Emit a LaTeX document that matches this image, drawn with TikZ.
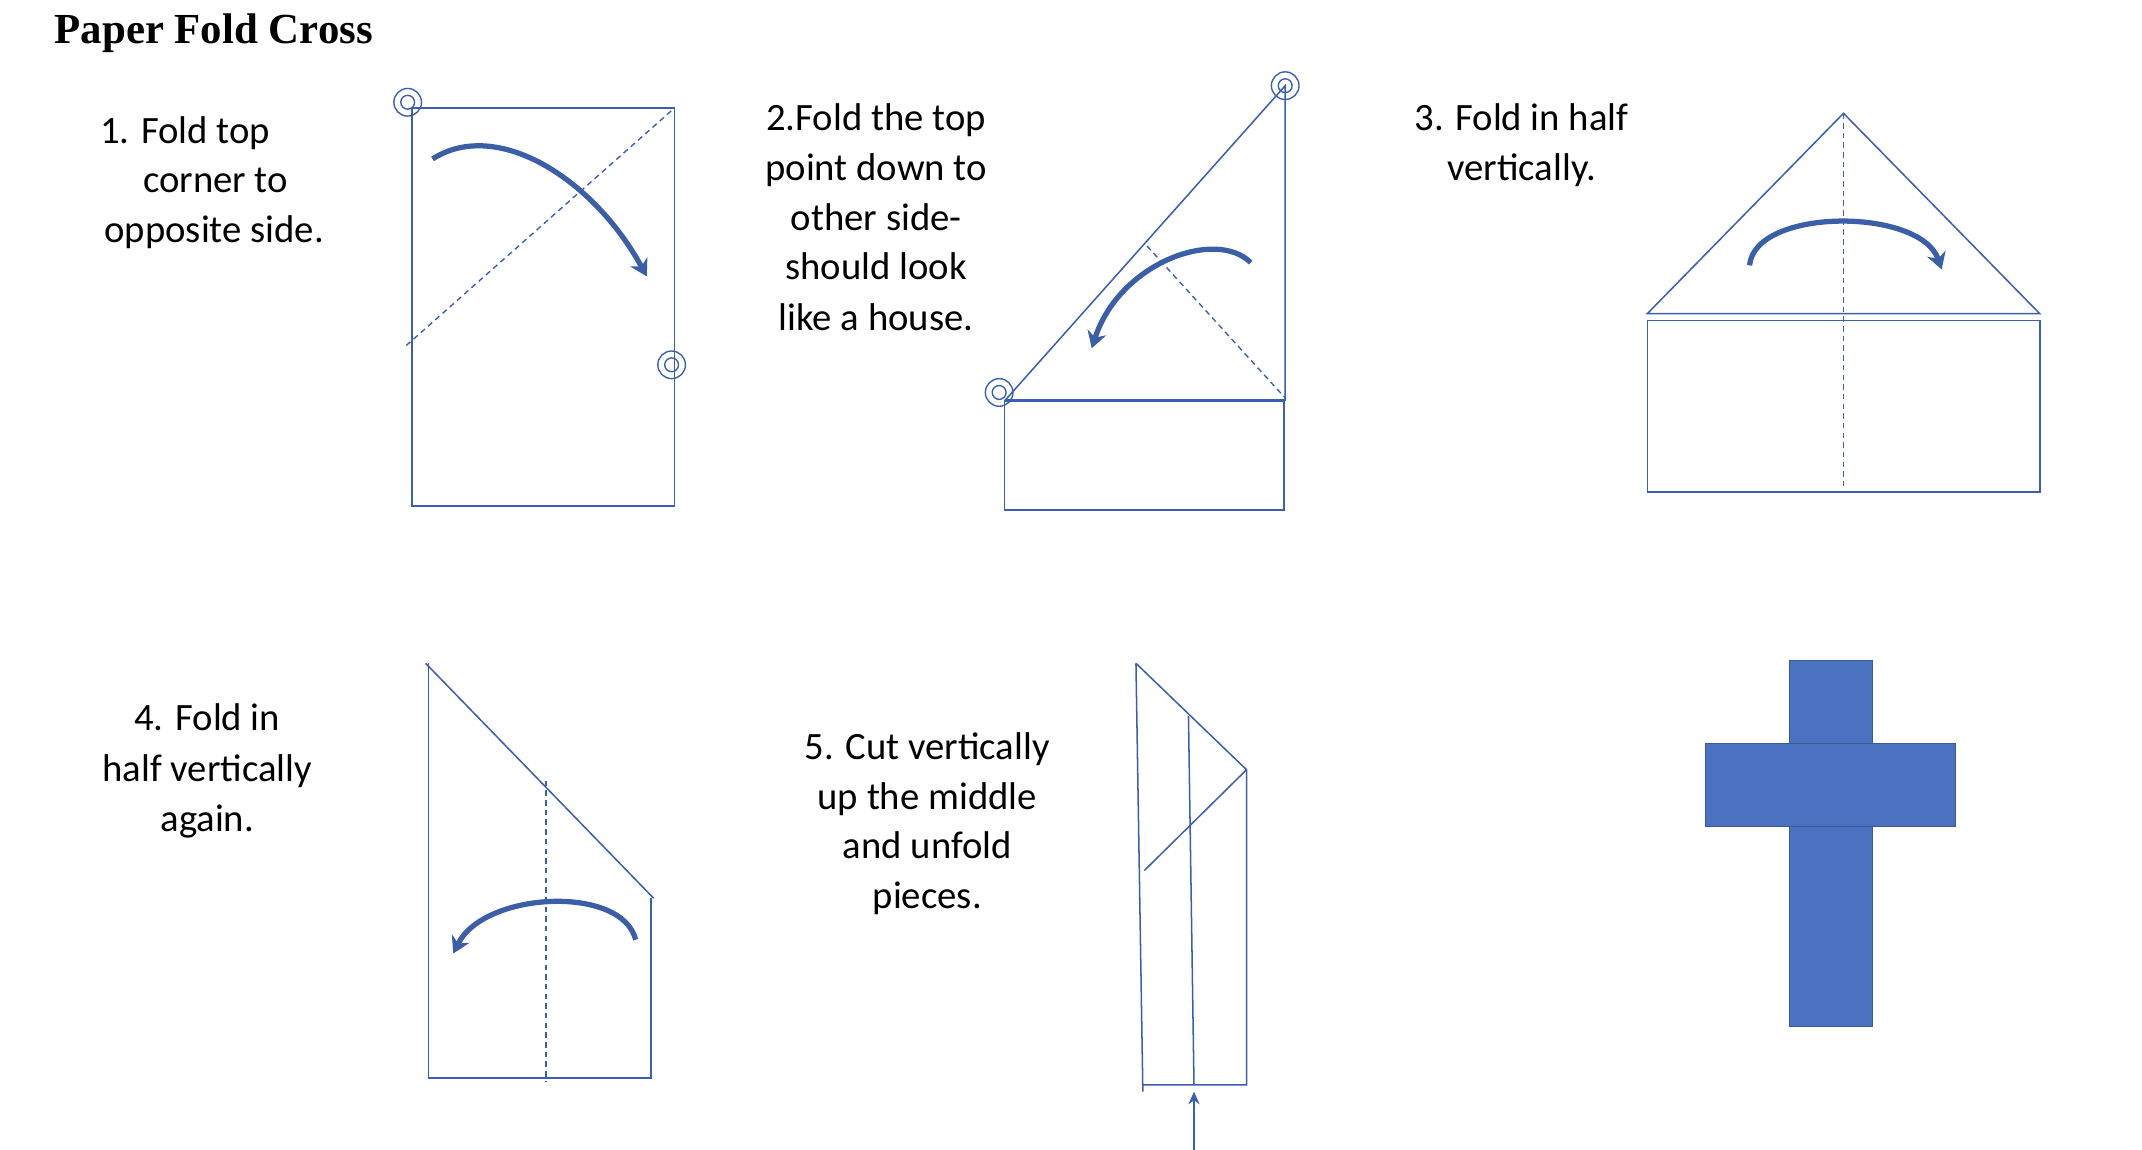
\documentclass[tikz,border=0pt]{standalone}
\usepackage{fontspec}
\setmainfont{Carlito}
\newfontfamily\titlefont{Liberation Serif}
\usetikzlibrary{arrows.meta}
\definecolor{ln}{HTML}{3A5FB0}
\definecolor{arr}{HTML}{3B5EA8}
\definecolor{crs}{HTML}{4A72C0}
\definecolor{crsb}{HTML}{3A5A9A}
\begin{document}
\begin{tikzpicture}[x=1pt,y=-1pt,
  paper/.style={draw=ln,line width=1.1pt},
  fold/.style={draw=ln,line width=1pt,dash pattern=on 4pt off 3pt},
  curlarrow/.style={draw=arr,line width=3.8pt,-{Stealth[length=12pt,width=14pt]}},
  lbl/.style={font=\fontsize{28}{32}\selectfont,anchor=center,text height=19pt,text depth=6pt,inner sep=0pt},
  pin/.style={draw=ln,line width=1pt}]
\useasboundingbox (0,0) rectangle (1550,832);
\node[anchor=west,font=\titlefont\bfseries\fontsize{31}{34}\selectfont] (title) at (36,24) {Paper Fold Cross};
% step 1
\node[lbl] (t1a) at (134,97) {1. Fold top};
\node[lbl] (t1b) at (156,133) {corner to};
\node[lbl] (t1c) at (155,169) {opposite side.};
\draw[paper] (298,78) rectangle (488,366);
\draw[fold] (294,250) -- (486,80);
\foreach \p in {(295,74),(486,264)}{\draw[pin] \p circle (10); \draw[pin] \p circle (5);}
\draw[curlarrow] (313,115) .. controls (360,85) and (430,130) .. (468,200);
% step 2
\node[lbl] (t2a) at (634,88) {2.Fold the top};
\node[lbl] (t2b) at (634,124) {point down to};
\node[lbl] (t2c) at (634,160) {other side-};
\node[lbl] (t2d) at (634,196) {should look};
\node[lbl] (t2e) at (634,233) {like a house.};
\draw[paper] (727,290) -- (930,62) -- (930,290);
\draw[draw=ln,line width=2pt] (727,290) -- (930,290);
\draw[paper] (727,290) rectangle (929,369);
\foreach \p in {(930,62),(723,284)}{\draw[pin] \p circle (10); \draw[pin] \p circle (5);}
\draw[fold] (830,178) -- (930,288);
\draw[curlarrow] (905,190) .. controls (880,165) and (810,190) .. (790,252);
% step 3
\node[lbl] (t3a) at (1101,88) {3. Fold in half};
\node[lbl] (t3b) at (1101,124) {vertically.};
\draw[paper] (1192,227) -- (1334,82) -- (1476,227) -- cycle;
\draw[paper] (1192,232) rectangle (1476,356);
\draw[fold] (1334,82) -- (1334,356);
\draw[curlarrow] (1266,192) .. controls (1270,150) and (1390,150) .. (1405,195);
% step 4
\node[lbl] (t4a) at (150,522) {4. Fold in};
\node[lbl] (t4b) at (150,559) {half vertically};
\node[lbl] (t4c) at (150,595) {again.};
\draw[paper] (308,480) -- (473,650);
\draw[paper] (310,480) -- (310,780) -- (471,780) -- (471,650);
\draw[fold] (395,565) -- (395,783);
\draw[curlarrow] (460,680) .. controls (450,640) and (350,645) .. (328,690);
% step 5
\node[lbl] (t5a) at (671,543) {5. Cut vertically};
\node[lbl] (t5b) at (671,579) {up the middle};
\node[lbl] (t5c) at (671,615) {and unfold};
\node[lbl] (t5d) at (671,651) {pieces.};
\draw[paper] (822,480) -- (827,790);
\draw[paper] (822,480) -- (902,557) -- (902,785) -- (827,785);
\draw[paper] (860,518) -- (864,785);
\draw[paper] (828,630) -- (902,557);
\coordinate (cutS) at (864,842);
\coordinate (cutE) at (864,790);
\draw[draw=ln,line width=1.8pt,-{Stealth[length=9pt,width=8pt]}] (cutS) -- (cutE);
% cross
\draw[fill=crs,draw=crsb,line width=0.8pt] (1295,478) rectangle (1355,743);
\draw[fill=crs,draw=crsb,line width=0.8pt] (1234,538) rectangle (1415,598);
\draw[draw=crsb,line width=0.8pt] (1295,538) -- (1295,478) -- (1355,478) -- (1355,538);
\end{tikzpicture}
\end{document}
